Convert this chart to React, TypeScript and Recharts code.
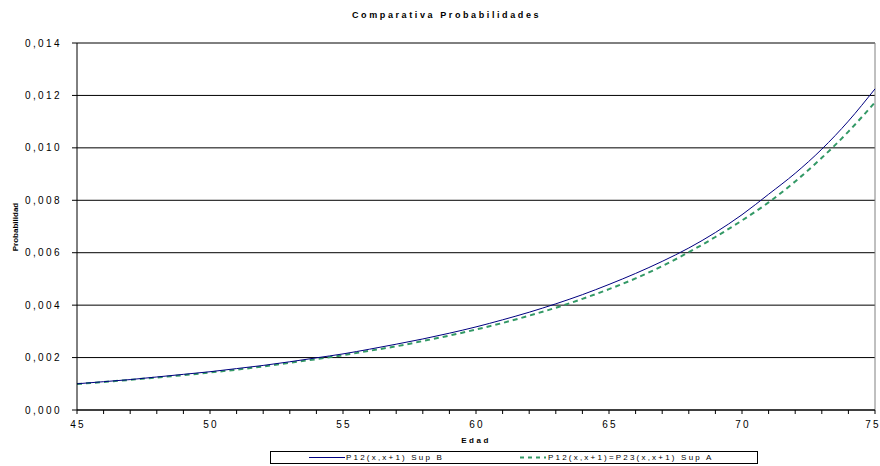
import React from 'react';
import { LineChart, Line, XAxis, YAxis, CartesianGrid, ReferenceLine, Label } from 'recharts';

const edades = [45, 46, 47, 48, 49, 50, 51, 52, 53, 54, 55, 56, 57, 58, 59, 60, 61, 62, 63, 64, 65, 66, 67, 68, 69, 70, 71, 72, 73, 74, 75];
const supB = [0.00100, 0.00108, 0.00116, 0.00126, 0.00136, 0.00146, 0.00158, 0.00170, 0.00184, 0.00199, 0.00214, 0.00232, 0.00251, 0.00271, 0.00293, 0.00317, 0.00344, 0.00373, 0.00405, 0.00440, 0.00479, 0.00521, 0.00567, 0.00618, 0.00677, 0.00745, 0.00823, 0.00903, 0.00995, 0.01102, 0.01225];
const supA = [0.00099, 0.00107, 0.00115, 0.00124, 0.00133, 0.00143, 0.00154, 0.00166, 0.00180, 0.00194, 0.00209, 0.00226, 0.00243, 0.00263, 0.00284, 0.00307, 0.00332, 0.00360, 0.00390, 0.00424, 0.00461, 0.00502, 0.00549, 0.00602, 0.00660, 0.00723, 0.00792, 0.00872, 0.00962, 0.01062, 0.01174];
const yTicks = [0, 0.002, 0.004, 0.006, 0.008, 0.01, 0.012, 0.014];
const xLabelTicks = [45, 50, 55, 60, 65, 70, 75];
const title = 'Comparativa Probabilidades';
const xTitle = 'Edad';
const yTitle = 'Probabilidad';
const nameB = 'P12(x,x+1) Sup B';
const nameA = 'P12(x,x+1)=P23(x,x+1) Sup A';

const data = edades.map((e, i) => ({ edad: e, b: supB[i], a: supA[i] }));

const FONT = '"Liberation Sans", Arial, sans-serif';
const COL_B = '#000080';
const COL_A = '#339966';

const fmtY = (v: number) => v.toFixed(3).replace('.', ',');

const YTick = (props: any) => {
  const { x, y, payload } = props;
  return (
    <text x={x - 8} y={y} dy={3.5} textAnchor="end" fontFamily={FONT} fontSize={10} fill="#000" style={{ letterSpacing: '2.4px' }}>
      {fmtY(payload.value)}
    </text>
  );
};

const XTick = (props: any) => {
  const { x, y, payload } = props;
  if (!xLabelTicks.includes(payload.value)) return <g />;
  const last = payload.value === xLabelTicks[xLabelTicks.length - 1];
  return (
    <text x={last ? x - 2 : x + 1} y={y + 12} textAnchor="middle" fontFamily={FONT} fontSize={10} fill="#000" style={{ letterSpacing: '2.2px' }}>
      {String(payload.value)}
    </text>
  );
};

export default function App() {
  return (
    <div style={{ position: 'absolute', left: 0, top: 0, width: 880, height: 466, background: '#fff', fontFamily: FONT }}>
      <div style={{ position: 'absolute', left: 352, top: 10, fontSize: 9, fontWeight: 'bold', letterSpacing: '2.6px', color: '#000', lineHeight: '10px', whiteSpace: 'nowrap' }}>
        {title}
      </div>
      <LineChart width={880} height={466} data={data} margin={{ top: 43, right: 5, left: 0, bottom: 36 }}>
        <CartesianGrid vertical={false} horizontalValues={yTicks} stroke="#000" strokeWidth={1} />
        <XAxis
          dataKey="edad"
          type="number"
          domain={[45, 75]}
          ticks={edades}
          interval={0}
          height={20}
          tickSize={4}
          tick={<XTick />}
          axisLine={{ stroke: '#000' }}
          tickLine={{ stroke: '#000' }}
        >
          <Label
            content={() => (
              <text x={476} y={443} textAnchor="middle" fontFamily={FONT} fontSize={8} fontWeight="bold" fill="#000" style={{ letterSpacing: '2.5px' }}>
                {xTitle}
              </text>
            )}
          />
        </XAxis>
        <YAxis
          type="number"
          domain={[0, 0.014]}
          ticks={yTicks}
          interval={0}
          width={77}
          tickSize={5}
          tick={<YTick />}
          axisLine={{ stroke: '#000' }}
          tickLine={{ stroke: '#000' }}
        >
          <Label
            content={() => (
              <text x={18} y={227} transform="rotate(-90 18 227)" textAnchor="middle" fontFamily={FONT} fontSize={8} fontWeight="bold" fill="#000">
                {yTitle}
              </text>
            )}
          />
        </YAxis>
        <ReferenceLine y={0.014} stroke="#808080" strokeWidth={1} />
        <ReferenceLine x={75} stroke="#808080" strokeWidth={1} />
        <Line type="monotone" dataKey="a" name={nameA} stroke={COL_A} strokeWidth={2} strokeDasharray="5 4" dot={false} isAnimationActive={false} />
        <Line type="monotone" dataKey="b" name={nameB} stroke={COL_B} strokeWidth={1} dot={false} isAnimationActive={false} />
      </LineChart>
      <div style={{ position: 'absolute', left: 270, top: 451, width: 486, height: 11, border: '1px solid #000', background: '#fff', fontSize: 8, lineHeight: '11px', color: '#000', letterSpacing: '2.2px', whiteSpace: 'nowrap' }}>
        <svg width={40} height={11} style={{ position: 'absolute', left: 38, top: 0 }}>
          <line x1={0} y1={5.5} x2={36} y2={5.5} stroke={COL_B} strokeWidth={1} />
        </svg>
        <span style={{ position: 'absolute', left: 75, top: 0 }}>{nameB}</span>
        <svg width={30} height={11} style={{ position: 'absolute', left: 249, top: 0 }}>
          <line x1={0} y1={5.5} x2={26} y2={5.5} stroke={COL_A} strokeWidth={2} strokeDasharray="4 4" />
        </svg>
        <span style={{ position: 'absolute', left: 277, top: 0 }}>{nameA}</span>
      </div>
    </div>
  );
}
